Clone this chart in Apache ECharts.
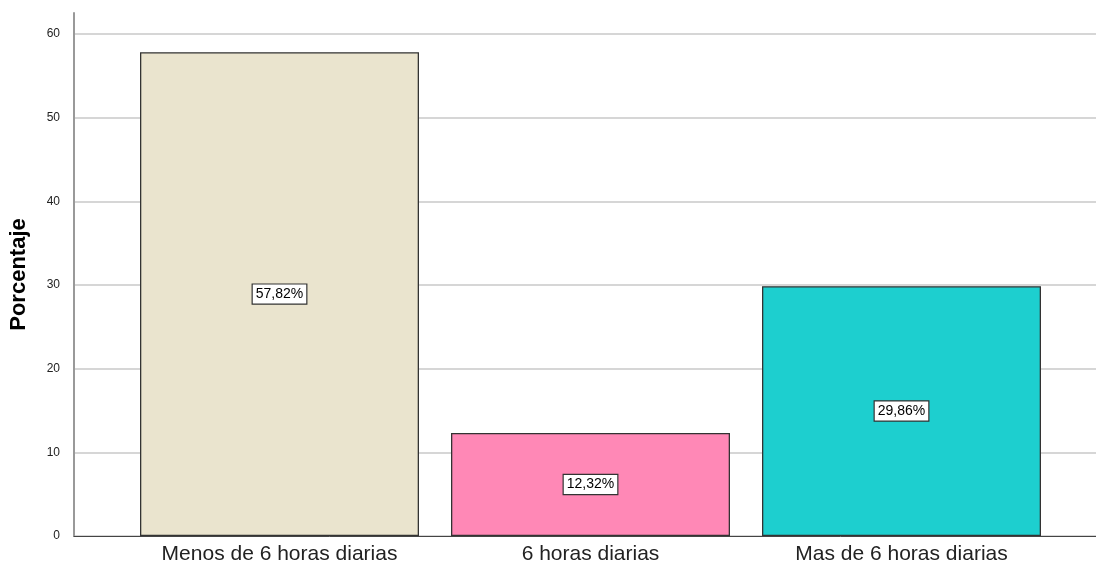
<!DOCTYPE html>
<html><head><meta charset="utf-8">
<script src="https://cdn.jsdelivr.net/npm/echarts@6/dist/echarts.min.js"></script>
<style>html,body{margin:0;padding:0;background:#fff}#c{width:1096px;height:566px}</style>
</head><body><div id="c"></div>
<script>
const categories = ['Menos de 6 horas diarias', '6 horas diarias', 'Mas de 6 horas diarias'];
const values = [57.82, 12.32, 29.86];
const colors = ['#EAE4CE', '#FF88B6', '#1DCFCF'];
const yTicks = [0, 10, 20, 30, 40, 50, 60];

const chart = echarts.init(document.getElementById('c'), null, {renderer: 'canvas'});
const gridTop = 13, gridBottom = 30;
chart.setOption({
  animation: false,
  grid: [
    {left: 73, right: 0, top: gridTop, bottom: gridBottom},
    {left: 124, right: 39, top: gridTop, bottom: gridBottom}
  ],
  xAxis: [
    {gridIndex: 0, type: 'value', min: 0, max: 1, show: true,
     axisLine: {show: true, onZero: false, lineStyle: {color: '#444', width: 1}},
     axisTick: {show: false}, axisLabel: {show: false}, splitLine: {show: false}},
    {gridIndex: 1, type: 'category', data: categories,
     axisLine: {show: false}, axisTick: {show: false},
     axisLabel: {color: '#222', fontFamily: 'Liberation Sans, Arial', fontSize: 21, margin: 8}}
  ],
  yAxis: [
    {gridIndex: 0, type: 'value', min: 0, max: 62.5, interval: 10,
     name: 'Porcentaje', nameLocation: 'middle', nameGap: 44, nameRotate: 90,
     nameTextStyle: {color: '#000', fontWeight: 'bold', fontSize: 22, fontFamily: 'Liberation Sans, Arial'},
     axisLine: {show: true, lineStyle: {color: '#999', width: 2}},
     axisTick: {show: false},
     axisLabel: {color: '#222', fontSize: 12, fontFamily: 'Liberation Sans, Arial', margin: 14,
                 padding: [3, 0, 0, 0],
                 formatter: v => yTicks.includes(v) ? String(v) : ''},
     splitLine: {show: true, showMaxLine: false, lineStyle: {color: '#d6d6d6', width: 2}}},
    {gridIndex: 1, type: 'value', min: 0, max: 62.5, interval: 10, show: false, splitLine: {show: false}}
  ],
  series: [{
    type: 'bar', xAxisIndex: 1, yAxisIndex: 1,
    barWidth: 279,
    data: values.map((v, i) => ({value: v, itemStyle: {color: colors[i]}})),
    itemStyle: {borderColor: '#333', borderWidth: 1.3},
    label: {
      show: true, position: 'inside',
      formatter: p => p.value.toFixed(2).replace('.', ',') + '%',
      color: '#000', fontSize: 14, fontFamily: 'Liberation Sans, Arial',
      backgroundColor: '#fff', borderColor: '#333', borderWidth: 1.2,
      padding: [3, 3, 2, 3]
    }
  }]
});
</script></body></html>
